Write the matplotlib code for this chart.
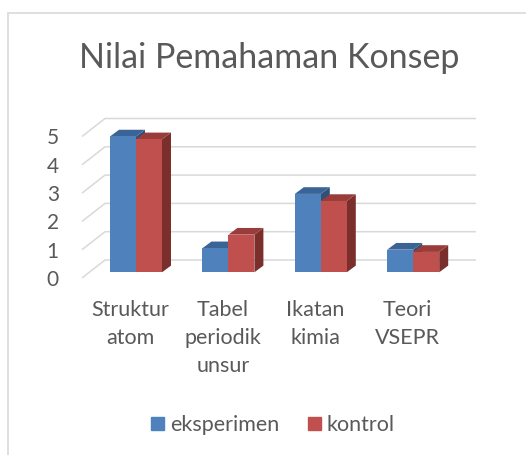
import numpy as np
import matplotlib
matplotlib.use("Agg")
import matplotlib.pyplot as plt
from matplotlib.patches import Polygon, Rectangle, Patch

# Data
categories = ["Struktur\natom", "Tabel\nperiodik\nunsur", "Ikatan\nkimia", "Teori\nVSEPR"]
eksperimen = [4.8, 0.85, 2.77, 0.8]
kontrol = [4.7, 1.33, 2.52, 0.72]
yticks = [0, 1, 2, 3, 4, 5]
series_names = ["eksperimen", "kontrol"]

# colours (front, top, side)
blue = ("#4f81bd", "#3b6496", "#2f5079")
red = ("#c0504d", "#9a3c39", "#7b2f2d")
text_col = "#595959"
grid_col = "#d9d9d9"

plt.rcParams["font.family"] = ["Lato", "DejaVu Sans"]

W, H = 526, 455
fig = plt.figure(figsize=(W / 100, H / 100), dpi=100)

# pixel geometry of the plot area
px_left, px_right, px_top, px_bot = 70, 490, 100, 290
x0_px, x_step = 136, 92.4      # first group centre, spacing (px)
y0_px, y_step = 272.3, 28.3    # bar baseline, px per unit

ax = fig.add_axes([px_left / W, (H - px_bot) / H, (px_right - px_left) / W, (px_bot - px_top) / H])
ax.set_xlim((px_left - x0_px) / x_step, (px_right - x0_px) / x_step)
ax.set_ylim((y0_px - px_bot) / y_step, (y0_px - px_top) / y_step)
for s in ax.spines.values():
    s.set_visible(False)

# 3D depth offsets in data units
bar_w = 26 / x_step
ddx, ddy = 9 / x_step, 6.7 / y_step
wall_x0, wall_x1, wall_xr = (82 - x0_px) / x_step, (105 - x0_px) / x_step, (476 - x0_px) / x_step
front_off, back_off = (y0_px - 278) / y_step, (y0_px - 260) / y_step

# gridlines: diagonal on the side wall + horizontal on the back wall
for v in yticks:
    ax.plot([wall_x0, wall_x1, wall_xr], [v + front_off, v + back_off, v + back_off],
            color=grid_col, lw=1.1, zorder=1, solid_capstyle="butt")

x = np.arange(len(categories))


def draw_bar(left, h, cols, z):
    front, top, side = cols
    ax.add_patch(Polygon([(left + bar_w, 0), (left + bar_w + ddx, ddy),
                          (left + bar_w + ddx, h + ddy), (left + bar_w, h)],
                         closed=True, fc=side, ec="none", zorder=z))
    ax.add_patch(Polygon([(left, h), (left + bar_w, h), (left + bar_w + ddx, h + ddy),
                          (left + ddx, h + ddy)], closed=True, fc=top, ec="none", zorder=z))
    ax.bar(left, h, width=bar_w, align="edge", color=front, zorder=z + 0.5)


for i in x:
    draw_bar(i - bar_w, eksperimen[i], blue, 2 + i * 2)
    draw_bar(i, kontrol[i], red, 3 + i * 2)

ax.set_yticks(np.array(yticks) + front_off, labels=[str(v) for v in yticks])
ax.set_xticks(x - 0.06, labels=categories)
ax.tick_params(axis="y", length=0, pad=8, labelsize=15, labelcolor=text_col)
ax.tick_params(axis="x", length=0, pad=7, labelsize=15.5, labelcolor=text_col)
for lab in ax.get_xticklabels():
    lab.set_multialignment("center")
    lab.set_linespacing(1.5)

fig.text(269 / W, 1 - 68 / H, "Nilai Pemahaman Konsep", ha="center", va="baseline",
         fontsize=24.5, color=text_col)

handles = [Patch(color=blue[0]), Patch(color=red[0])]
fig.legend(handles, series_names, loc="center", bbox_to_anchor=(273 / W, 1 - 425 / H),
           ncol=2, frameon=False, fontsize=15.5, labelcolor=text_col,
           handlelength=0.6, handleheight=0.6, handletextpad=0.3, columnspacing=1.3)

# chart area border (only top and left edges fall inside the picture)
fig.patches.append(Rectangle((8 / W, -20 / H), (W + 40) / W, (H + 20 - 13) / H,
                             transform=fig.transFigure, fill=False, ec=grid_col, lw=1.2))

fig.savefig("out.png", dpi=100)
